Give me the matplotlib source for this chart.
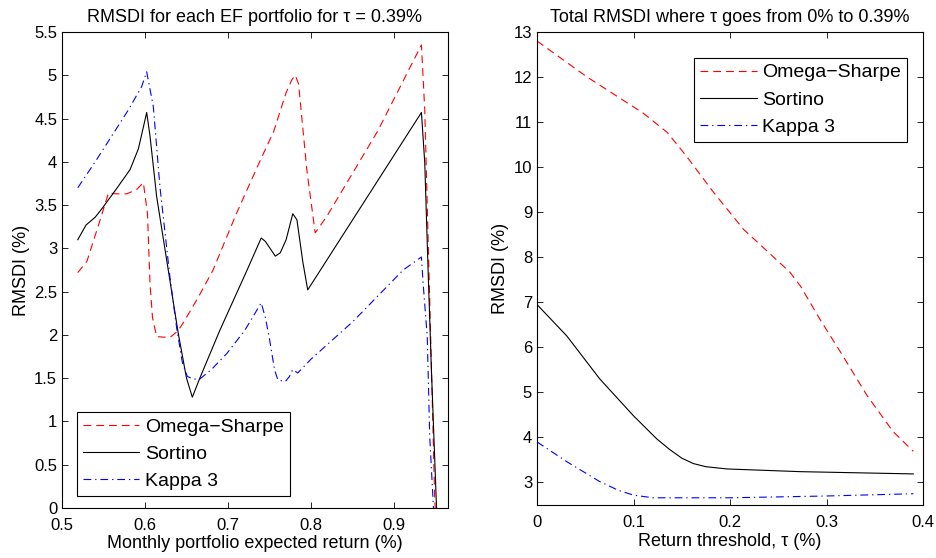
import matplotlib
matplotlib.use("Agg")
import matplotlib.pyplot as plt

plt.rcParams['font.family'] = ['Liberation Sans', 'DejaVu Sans']
plt.rcParams['axes.unicode_minus'] = True

# left panel: RMSDI per EF portfolio (tau = 0.39%)
os_x = [0.519, 0.530, 0.545, 0.556, 0.565, 0.578, 0.590, 0.598, 0.603, 0.606, 0.609, 0.614, 0.630,
        0.640, 0.648, 0.665, 0.682, 0.710, 0.739, 0.755, 0.770, 0.777, 0.781, 0.785, 0.795, 0.805,
        0.819, 0.880, 0.933, 0.937, 0.943, 0.949, 0.953]
os_y = [2.72, 2.85, 3.30, 3.64, 3.63, 3.63, 3.68, 3.76, 3.40, 2.60, 2.20, 1.98, 1.97,
        2.05, 2.17, 2.45, 2.75, 3.40, 4.02, 4.35, 4.80, 4.95, 5.00, 4.90, 3.90, 3.18,
        3.37, 4.35, 5.35, 4.60, 2.40, 0.10, -0.60]

so_x = [0.519, 0.529, 0.540, 0.549, 0.565, 0.582, 0.592, 0.598, 0.602, 0.606, 0.614, 0.628, 0.640,
        0.650, 0.657, 0.666, 0.690, 0.723, 0.740, 0.745, 0.757, 0.763, 0.770, 0.778, 0.783, 0.790,
        0.796, 0.933, 0.937, 0.941, 0.945, 0.951, 0.954]
so_y = [3.10, 3.27, 3.36, 3.47, 3.68, 3.91, 4.15, 4.40, 4.57, 4.30, 3.60, 2.75, 2.02,
        1.50, 1.28, 1.50, 2.05, 2.75, 3.12, 3.08, 2.91, 2.95, 3.10, 3.40, 3.33, 2.85,
        2.52, 4.57, 3.99, 2.75, 1.60, 0.05, -0.50]

k3_x = [0.519, 0.540, 0.560, 0.580, 0.596, 0.602, 0.610, 0.618, 0.630, 0.638, 0.645, 0.651, 0.658,
        0.666, 0.680, 0.699, 0.720, 0.740, 0.745, 0.750, 0.756, 0.760, 0.769, 0.774, 0.778, 0.784,
        0.800, 0.850, 0.911, 0.933, 0.935, 0.940, 0.943, 0.947, 0.950]
k3_y = [3.70, 4.00, 4.30, 4.60, 4.87, 5.04, 4.64, 3.71, 2.67, 2.09, 1.68, 1.52, 1.49,
        1.49, 1.60, 1.79, 2.05, 2.37, 2.20, 1.95, 1.60, 1.48, 1.46, 1.52, 1.60, 1.56,
        1.72, 2.15, 2.75, 2.90, 2.60, 1.98, 0.82, 0.09, -0.50]

# right panel: total RMSDI vs threshold tau
os_tau = [0.0, 0.052, 0.110, 0.135, 0.155, 0.183, 0.214, 0.262, 0.273, 0.293, 0.317, 0.342, 0.369, 0.390]
os_tot = [12.80, 12.00, 11.20, 10.77, 10.24, 9.44, 8.62, 7.67, 7.36, 6.63, 5.81, 4.93, 4.13, 3.69]

so_tau = [0.0, 0.031, 0.065, 0.100, 0.124, 0.137, 0.150, 0.162, 0.175, 0.197, 0.273, 0.390]
so_tot = [6.95, 6.25, 5.30, 4.48, 3.97, 3.74, 3.54, 3.42, 3.35, 3.30, 3.24, 3.19]

k3_tau = [0.0, 0.031, 0.065, 0.085, 0.100, 0.120, 0.200, 0.300, 0.390]
k3_tot = [3.90, 3.46, 3.02, 2.82, 2.72, 2.66, 2.66, 2.70, 2.75]

labels = ["Omega\u2212Sharpe", "Sortino", "Kappa 3"]

fig = plt.figure(figsize=(9.36, 5.58), dpi=100)
ax1 = fig.add_axes([62 / 936, 1 - 508 / 558, 386 / 936, 476 / 558])
ax2 = fig.add_axes([537 / 936, 1 - 505 / 558, 386 / 936, 473 / 558])

lw = 0.8
dash = (0, (7, 4.5))
dashdot = (0, (7, 3.5, 1.2, 3.5))

ax1.plot(os_x, os_y, color="red", lw=lw, linestyle=dash, label=labels[0])
ax1.plot(so_x, so_y, color="black", lw=lw, linestyle="-", label=labels[1])
ax1.plot(k3_x, k3_y, color="blue", lw=lw, linestyle=dashdot, label=labels[2])
ax1.set_xlim(0.5, 0.965)
ax1.set_ylim(0, 5.5)
ax1.set_xticks([0.5, 0.6, 0.7, 0.8, 0.9])
ax1.set_xticklabels(["0.5", "0.6", "0.7", "0.8", "0.9"])
ax1.set_yticks([0, 0.5, 1, 1.5, 2, 2.5, 3, 3.5, 4, 4.5, 5, 5.5])
ax1.set_yticklabels(["0", "0.5", "1", "1.5", "2", "2.5", "3", "3.5", "4", "4.5", "5", "5.5"])
ax1.set_title("RMSDI for each EF portfolio for \u03c4 = 0.39%", fontsize=13, pad=7)
ax1.set_xlabel("Monthly portfolio expected return (%)", fontsize=13, labelpad=2)
ax1.set_ylabel("RMSDI (%)", fontsize=13, labelpad=3)
leg1 = ax1.legend(loc="lower left", bbox_to_anchor=(0.039, 0.025), borderaxespad=0,
                  fontsize=14, handlelength=2.9, handletextpad=0.3, labelspacing=0.5,
                  fancybox=False, framealpha=1, edgecolor="black", borderpad=0.3)
leg1.get_frame().set_linewidth(0.8)

ax2.plot(os_tau, os_tot, color="red", lw=lw, linestyle=dash, label=labels[0])
ax2.plot(so_tau, so_tot, color="black", lw=lw, linestyle="-", label=labels[1])
ax2.plot(k3_tau, k3_tot, color="blue", lw=lw, linestyle=dashdot, label=labels[2])
ax2.set_xlim(0, 0.4)
ax2.set_ylim(2.5, 13)
ax2.set_xticks([0, 0.1, 0.2, 0.3, 0.4])
ax2.set_xticklabels(["0", "0.1", "0.2", "0.3", "0.4"])
ax2.set_yticks(range(3, 14))
ax2.set_title("Total RMSDI where \u03c4 goes from 0% to 0.39%", fontsize=13, pad=7)
ax2.set_xlabel("Return threshold, \u03c4 (%)", fontsize=13, labelpad=2)
ax2.set_ylabel("RMSDI (%)", fontsize=13, labelpad=3)
leg2 = ax2.legend(loc="upper right", bbox_to_anchor=(0.959, 0.945), borderaxespad=0,
                  fontsize=14, handlelength=2.9, handletextpad=0.3, labelspacing=0.5,
                  fancybox=False, framealpha=1, edgecolor="black", borderpad=0.3)
leg2.get_frame().set_linewidth(0.8)

for ax in (ax1, ax2):
    ax.tick_params(direction="in", top=True, right=True, labelsize=12, length=4, width=0.6)
    ax.tick_params(axis="x", pad=7)
    for s in ax.spines.values():
        s.set_linewidth(0.8)

fig.savefig("out.png", dpi=100)
